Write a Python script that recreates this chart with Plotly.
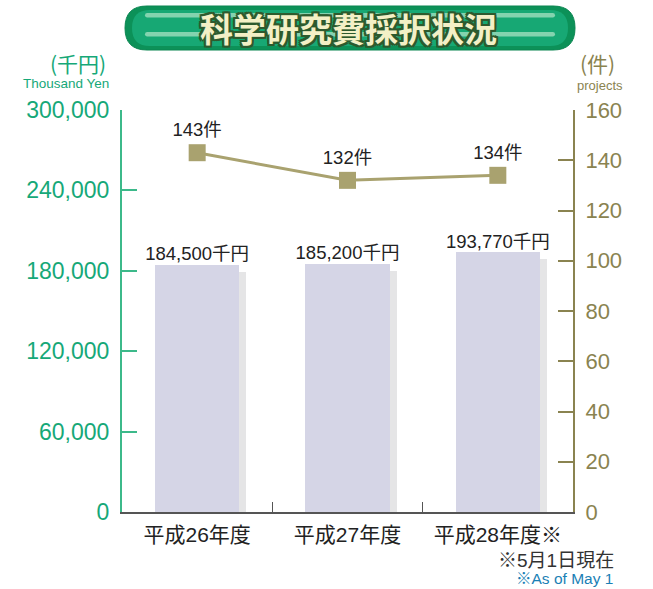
import plotly.graph_objects as go

# ---- data ----
categories = ["平成26年度", "平成27年度", "平成28年度※"]
funding_thousand_yen = [184500, 185200, 193770]
projects = [143, 132, 134]
funding_labels = ["184,500千円", "185,200千円", "193,770千円"]
project_labels = ["143件", "132件", "134件"]
left_ticks = [0, 60000, 120000, 180000, 240000, 300000]
right_ticks = [0, 20, 40, 60, 80, 100, 120, 140, 160]

W, H = 653, 589
L, R, T, B = 122, 573, 110, 512   # plot area in pixels

def px(x):
    return (x - L) / (R - L)

def py(y):
    return (B - y) / (B - T)

GREEN = "#16a878"
OLIVE = "#8a8350"
LINE_C = "#a9a26f"
FONT = "Liberation Sans, Noto Sans CJK JP, sans-serif"

xs = list(range(len(categories)))
shadow_dx = 7 / (R - L) * 3          # 7 px in category units
shadow_dy = 7 / (B - T) * 300000     # 7 px in value units

fig = go.Figure()

# bar shadows
fig.add_trace(go.Bar(
    x=[x + shadow_dx for x in xs],
    y=[v - shadow_dy for v in funding_thousand_yen],
    width=0.56, marker=dict(color="#e5e5e6", line=dict(width=0)),
    hoverinfo="skip", showlegend=False,
))
# bars
fig.add_trace(go.Bar(
    x=xs, y=funding_thousand_yen, width=0.56,
    marker=dict(color="#d5d5e6", line=dict(width=0)),
    showlegend=False,
))
# bar value labels
fig.add_trace(go.Scatter(
    x=xs, y=funding_thousand_yen, mode="text",
    text=funding_labels, textposition="top center",
    textfont=dict(family=FONT, size=18.5, color="#222222"),
    cliponaxis=False, showlegend=False, hoverinfo="skip",
))
# projects line
fig.add_trace(go.Scatter(
    x=xs, y=projects, yaxis="y2",
    mode="lines+markers+text",
    line=dict(color=LINE_C, width=3),
    marker=dict(symbol="square", size=17, color=LINE_C),
    text=project_labels, textposition="top center",
    textfont=dict(family=FONT, size=18.5, color="#222222"),
    cliponaxis=False, showlegend=False,
))

shapes = []
# title pill
def pill(x0, y0, x1, y1, r):
    return (f"M {px(x0 + r)} {py(y0)} L {px(x1 - r)} {py(y0)} "
            f"Q {px(x1)} {py(y0)} {px(x1)} {py((y0 + y1) / 2)} "
            f"Q {px(x1)} {py(y1)} {px(x1 - r)} {py(y1)} "
            f"L {px(x0 + r)} {py(y1)} "
            f"Q {px(x0)} {py(y1)} {px(x0)} {py((y0 + y1) / 2)} "
            f"Q {px(x0)} {py(y0)} {px(x0 + r)} {py(y0)} Z")

shapes.append(dict(type="path", xref="paper", yref="paper",
                   path=pill(125, 6, 575, 50, 22),
                   fillcolor="#0c9158", line=dict(color="#0a8550", width=1), layer="above"))
shapes.append(dict(type="path", xref="paper", yref="paper",
                   path=pill(132, 10, 568, 46, 18),
                   fillcolor="#17a874", line=dict(width=0), layer="above"))
for y0, y1 in [(13, 17.5), (32, 36.5)]:
    shapes.append(dict(type="path", xref="paper", yref="paper",
                       path=pill(145, y0, 555, y1, 2.2),
                       fillcolor="rgba(205,240,215,0.6)", line=dict(width=0), layer="above"))

annotations = [
    dict(text="<b>科学研究費採択状況</b>", x=px(348), y=py(28), xref="paper", yref="paper",
         showarrow=False, xanchor="center", yanchor="middle",
         font=dict(family="Noto Sans CJK JP", size=33, color="#f3f0c6",
                   shadow="-2px -2px 0 #2d5a2e, 2px -2px 0 #2d5a2e, -2px 2px 0 #2d5a2e, 2px 2px 0 #2d5a2e, 0 2px 0 #2d5a2e, 0 -2px 0 #2d5a2e, 2px 0 0 #2d5a2e, -2px 0 0 #2d5a2e")),
    dict(text="(千円)", x=px(108), y=py(63), xref="paper", yref="paper", showarrow=False,
         xanchor="right", yanchor="middle",
         font=dict(family="Noto Sans CJK JP", size=21, color=GREEN)),
    dict(text="Thousand Yen", x=px(111), y=py(84), xref="paper", yref="paper", showarrow=False,
         xanchor="right", yanchor="middle",
         font=dict(family=FONT, size=13.5, color=GREEN)),
    dict(text="(件)", x=px(578), y=py(63), xref="paper", yref="paper", showarrow=False,
         xanchor="left", yanchor="middle",
         font=dict(family="Noto Sans CJK JP", size=21, color=OLIVE)),
    dict(text="projects", x=px(575), y=py(85), xref="paper", yref="paper", showarrow=False,
         xanchor="left", yanchor="middle",
         font=dict(family=FONT, size=13, color=OLIVE)),
    dict(text="※5月1日現在", x=px(616), y=py(560), xref="paper", yref="paper", showarrow=False,
         xanchor="right", yanchor="middle",
         font=dict(family=FONT, size=19, color="#333333")),
    dict(text="※As of May 1", x=px(615), y=py(578), xref="paper", yref="paper", showarrow=False,
         xanchor="right", yanchor="middle",
         font=dict(family=FONT, size=15.5, color="#1a7fb5")),
]

fig.update_layout(
    width=W, height=H,
    margin=dict(l=L, r=W - R, t=T, b=H - B),
    paper_bgcolor="white", plot_bgcolor="white",
    barmode="overlay", bargap=0,
    font=dict(family=FONT),
    shapes=shapes, annotations=annotations,
    xaxis=dict(
        range=[-0.5, 2.5], tickvals=xs, ticktext=categories,
        ticks="", showgrid=False, zeroline=False,
        showline=True, linecolor="#555555", linewidth=1.5,
        tickfont=dict(family=FONT, size=21, color="#222222"),
        ticklabelstandoff=3,
        minor=dict(tickvals=[0.5, 1.5], ticks="inside", ticklen=10,
                   tickcolor="#555555", tickwidth=1.2, showgrid=False),
    ),
    yaxis=dict(
        range=[0, 300000], tickvals=left_ticks, tickformat=",d",
        ticks="inside", ticklen=15, tickwidth=2, tickcolor="#3cb98a",
        showline=True, linecolor="#3cb98a", linewidth=2,
        showgrid=False, zeroline=False,
        tickfont=dict(family=FONT, size=23, color=GREEN),
        ticklabelstandoff=6,
    ),
    yaxis2=dict(
        range=[0, 160], tickvals=right_ticks, overlaying="y", side="right",
        ticks="inside", ticklen=15, tickwidth=1.5, tickcolor=OLIVE,
        showline=True, linecolor=OLIVE, linewidth=2,
        showgrid=False, zeroline=False,
        tickfont=dict(family=FONT, size=22, color=OLIVE),
        ticklabelstandoff=6,
    ),
)

fig.write_html("out.html")
